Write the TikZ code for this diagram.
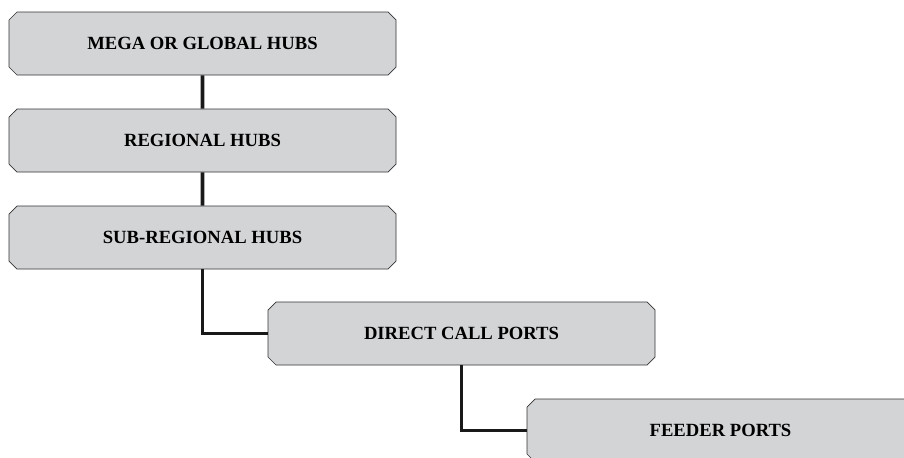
\documentclass[tikz,border=0pt]{standalone}
\usepackage{fontspec}
\setmainfont{Liberation Serif}
\usetikzlibrary{shapes.misc}
\definecolor{hubgray}{HTML}{D3D4D6}
\tikzstyle{hub} = [chamfered rectangle, chamfered rectangle xsep=.08cm, chamfered rectangle ysep=.08cm,
	draw=black!80, thin, fill=hubgray,
	minimum width=7.74cm, minimum height=1.26cm, inner sep=0pt, font=\fontsize{10.6}{12}\selectfont\bfseries]
\tikzstyle{link} = [line width=.075cm, draw=black!90]

\begin{document}
\begin{tikzpicture}%
			\useasboundingbox (0,0) rectangle (18.08,9.14);
			\clip (0,0) rectangle (18.08,9.14);
			\node [hub] (mega) at (4.05,8.27) {MEGA OR GLOBAL HUBS};
			\node [hub] (regional) at (4.05,6.33) {REGIONAL HUBS};
			\node [hub] (subregional) at (4.05,4.39) {SUB-REGIONAL HUBS};
			\node [hub] (direct) at (9.23,2.47) {DIRECT CALL PORTS};
			\node [hub] (feeder) at (14.41,0.53) {FEEDER PORTS};
			\draw[link] (mega) -- (regional);
			\draw[link] (regional) -- (subregional);
			\draw[link] (subregional.south) |- (direct.west);
			\draw[link] (direct.south) |- (feeder.west);
		\end{tikzpicture}
\end{document}
